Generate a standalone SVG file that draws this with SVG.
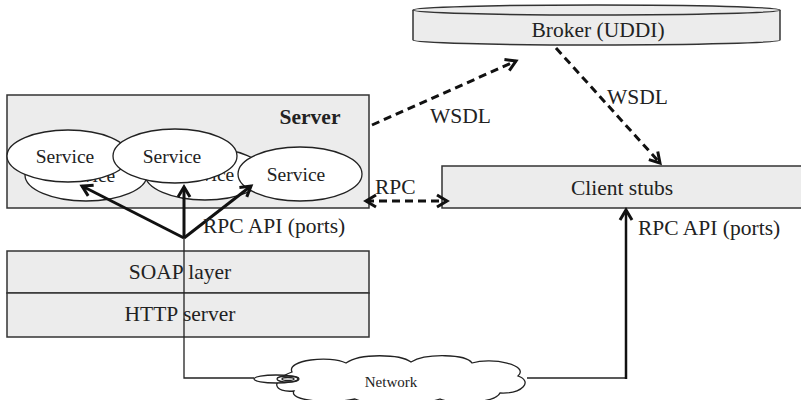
<svg xmlns="http://www.w3.org/2000/svg" width="801" height="400" viewBox="0 0 801 400">
<style>
.box{fill:#ececec;stroke:#333;stroke-width:1.5}
.ell{fill:#fff;stroke:#222;stroke-width:1.3}
.t{font-family:"Liberation Serif","Times New Roman",serif;font-size:21.5px;fill:#222}
.s{font-size:19.5px}
.dash{fill:none;stroke:#111;stroke-width:3;stroke-dasharray:8 5}
.solid{fill:none;stroke:#111;stroke-width:3}
.thin{fill:none;stroke:#222;stroke-width:1.3}
</style>
<defs>
<marker id="ah" markerWidth="16" markerHeight="16" refX="13" refY="8" orient="auto-start-reverse" markerUnits="userSpaceOnUse">
<path d="M3,2 L13,8 L3,14" fill="none" stroke="#111" stroke-width="3"/>
</marker>
</defs>
<rect width="801" height="400" fill="#fff"/>

<g id="server">
<rect class="box" x="7" y="95" width="362" height="113"/>
<text class="t" x="310" y="124" text-anchor="middle" font-weight="bold">Server</text>
</g>
<g id="service-back1">
<ellipse class="ell" cx="86" cy="175" rx="61" ry="26"/>
<text class="t s" x="86" y="182" text-anchor="middle">Service</text>
</g>
<g id="service-back2">
<ellipse class="ell" cx="205" cy="174" rx="60" ry="26"/>
<text class="t s" x="205" y="181" text-anchor="middle">Service</text>
</g>
<g id="service1">
<ellipse class="ell" cx="68" cy="156" rx="61" ry="26"/>
<text class="t s" x="65" y="163" text-anchor="middle">Service</text>
</g>
<g id="service2">
<ellipse class="ell" cx="175" cy="156" rx="62" ry="27"/>
<text class="t s" x="172" y="163" text-anchor="middle">Service</text>
</g>
<g id="service3">
<ellipse class="ell" cx="300" cy="174" rx="62" ry="27"/>
<text class="t s" x="296" y="181" text-anchor="middle">Service</text>
</g>

<g id="broker">
<path class="box" d="M413,10 L413,40 A183.5,5 0 0 0 780,40 L780,10"/>
<ellipse class="box" cx="596.5" cy="10" rx="183.5" ry="5"/>
<text class="t" x="598" y="37" text-anchor="middle">Broker (UDDI)</text>
</g>

<g id="client-stubs">
<rect class="box" x="442" y="166" width="362" height="42"/>
<text class="t" x="622" y="195" text-anchor="middle">Client stubs</text>
</g>

<g id="soap">
<rect class="box" x="7" y="251" width="362" height="42"/>
<text class="t" x="180" y="279" text-anchor="middle">SOAP layer</text>
</g>
<g id="http">
<rect class="box" x="7" y="293" width="362" height="44"/>
<text class="t" x="180" y="321" text-anchor="middle">HTTP server</text>
</g>

<g id="network">
<path class="thin" d="M292,372 C286,360 330,355 346,363 C360,353 400,354 411,362 C426,353 466,354 472,363 C492,357 530,365 518,376 C533,381 523,394 500,393 C495,404 450,404 440,399 C420,406 370,406 355,399 C330,404 288,401 294,391 C274,393 269,381 292,372 Z" style="fill:#fff"/>
<ellipse class="thin" cx="276" cy="379" rx="22" ry="4" style="fill:#fff"/>
<ellipse class="thin" cx="288" cy="379" rx="11" ry="3"/>
<ellipse class="thin" cx="288" cy="379" rx="6" ry="1.5"/>
<text class="t" x="391" y="387" text-anchor="middle" style="font-size:15px">Network</text>
</g>

<g id="connectors">
<path class="dash" d="M372,125 L516,61" marker-end="url(#ah)"/>
<path class="dash" d="M556,48 L660,163" marker-end="url(#ah)"/>
<path class="dash" d="M366,201 L447,201" marker-start="url(#ah)" marker-end="url(#ah)"/>
<path class="solid" d="M184,238 L82,186" marker-end="url(#ah)"/>
<path class="solid" d="M184,238 L184,187" marker-end="url(#ah)"/>
<path class="solid" d="M184,238 L251,186" marker-end="url(#ah)"/>
<path class="thin" d="M184,238 L184,378 L254,378"/>
<path class="thin" d="M527,378 L626,378"/>
<path class="solid" style="stroke-width:2.5" d="M626,379 L626,210" marker-end="url(#ah)"/>
<text class="t" x="430" y="123">WSDL</text>
<text class="t" x="607" y="104">WSDL</text>
<text class="t" x="375" y="194">RPC</text>
<text class="t" x="203" y="233">RPC API (ports)</text>
<text class="t" x="638" y="235">RPC API (ports)</text>
</g>
</svg>
